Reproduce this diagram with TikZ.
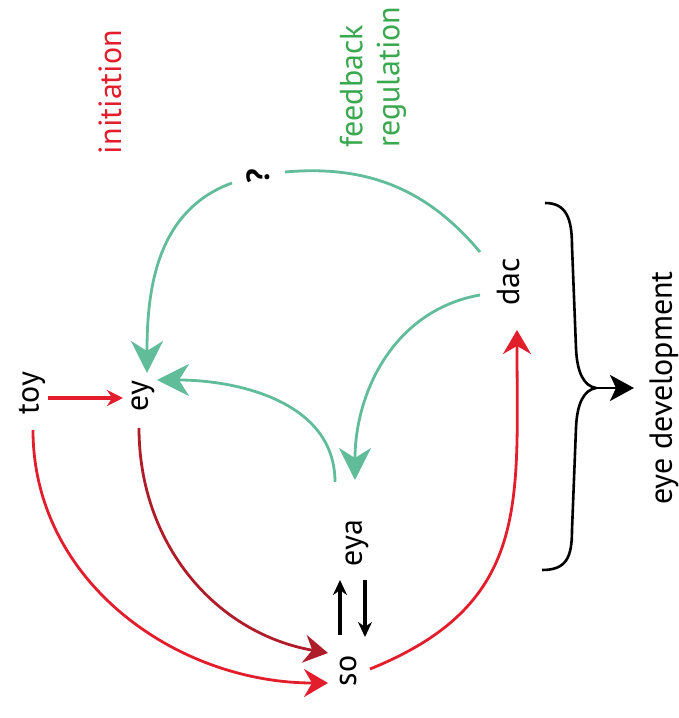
\documentclass[tikz,border=0pt]{standalone}
\usepackage{fontspec}
\setmainfont{PT Sans}
\usepackage{xcolor}
\usetikzlibrary{arrows.meta}

\definecolor{initred}{RGB}{226,30,44}
\definecolor{darkred}{RGB}{175,28,42}
\definecolor{fbteal}{RGB}{96,188,153}
\definecolor{fbgreen}{RGB}{58,168,78}

\begin{document}
\begin{tikzpicture}[x=0.5pt, y=0.5pt, every node/.style={rotate=90, inner sep=0pt, font=\fontsize{16}{18.5}\selectfont}, gene/.style={text=black}, redarr/.style={initred, line width=1.4pt, -{Stealth[length=12pt,width=14pt,inset=4pt]}}, darkarr/.style={redarr, darkred}, tealarr/.style={fbteal, line width=1.4pt, -{Stealth[length=16pt,width=16pt,inset=5pt]}}, pairarr/.style={black, line width=2.1pt, -{Stealth[length=7.5pt,width=7pt]}}, brace/.style={black, line width=1.3pt}]
\useasboundingbox (0,0) rectangle (679,718);
% genes
\node[gene] (toy) at (32,325) {toy};
\node[gene] (ey) at (143,322) {ey};
\node[gene] (eya) at (357,175) {eya};
\node[gene] (so) at (348,47) {so};
\node[gene] (dac) at (508,436) {dac};
\node[gene, font=\fontsize{16}{18.5}\selectfont\bfseries] (q) at (258,542) {?};
% labels
\node[text=initred] (init) at (110,626) {initiation};
\node[text=fbgreen, align=left] (fb) at (373,641) {feedback\\regulation};
\node (dev) at (664,330) {eye development};
% initiation
\draw[redarr, line width=2pt, -{Stealth[length=8pt,width=8pt]}] ([shift={(16,-5)}]toy.center) -- ([shift={(-20,-2)}]ey.center);
\draw[redarr] ([shift={(1,-37)}]toy.center) to[out=-90,in=180] ([shift={(-20,-12)}]so.center);
\draw[darkarr] ([shift={(-4,-32)}]ey.center) to[out=-90,in=170] ([shift={(-20,18)}]so.center);
\draw[redarr] ([shift={(22,2)}]so.center) to[out=22,in=-90,looseness=1.2] ([shift={(9,-48)}]dac.center);
\draw[pairarr] ([shift={(-8,36)}]so.center) -- ([shift={(-17,-37)}]eya.center);
\draw[pairarr] ([shift={(8,-37)}]eya.center) -- ([shift={(17,34)}]so.center);
% feedback
\draw[tealarr, -] ([shift={(-28,30)}]dac.center) to[out=130,in=5] ([shift={(27,4)}]q.center);
\draw[tealarr] ([shift={(-26,-7)}]q.center) to[out=200,in=90] ([shift={(4,23)}]ey.center);
\draw[tealarr] ([shift={(-28,-13)}]dac.center) to[out=190,in=90] ([shift={(-2,63)}]eya.center);
\draw[tealarr] ([shift={(-22,61)}]eya.center) to[out=90,in=0] ([shift={(14,16)}]ey.center);
% brace
\coordinate (cusp) at (596,330);
\draw[brace] (545,515) .. controls (566,515) and (572,500) .. (572,472) -- (576,370) .. controls (577,345) and (584,332) .. (cusp) .. controls (584,328) and (577,315) .. (576,290) -- (572,188) .. controls (572,160) and (566,148) .. (542,148);
\draw[brace, -{Stealth[length=12pt,width=13pt,inset=3pt]}] (cusp) -- ([shift={(-30,0)}]dev.center);
\end{tikzpicture}
\end{document}
